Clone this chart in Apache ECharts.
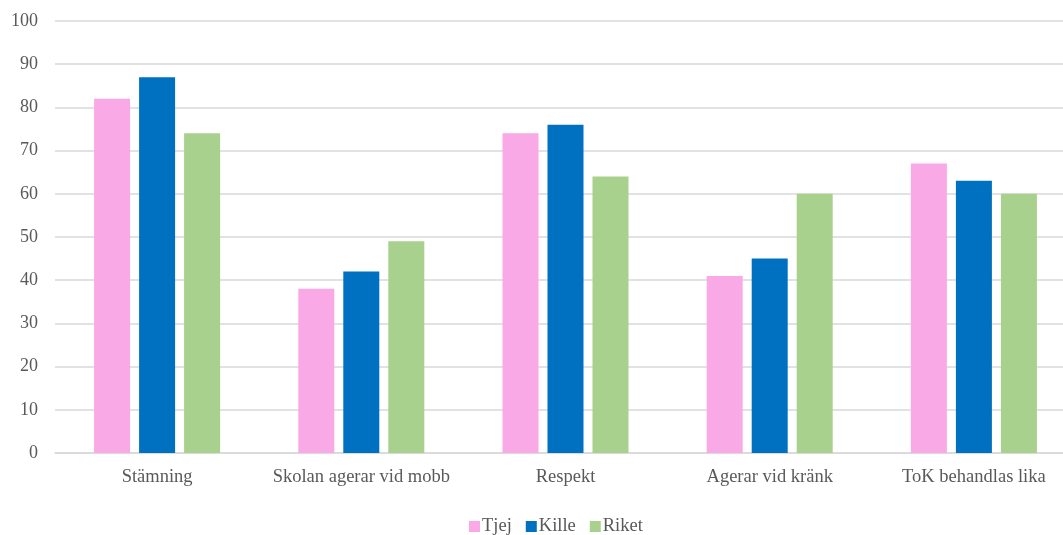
<!DOCTYPE html>
<html lang="sv">
  <head>
    <meta charset="UTF-8" />
    <title>Enkät</title>
    <script src="https://cdn.jsdelivr.net/npm/echarts@6/dist/echarts.min.js"></script>
    <style>
      html, body { margin: 0; padding: 0; background: #fff; overflow: hidden; }
      /* plot area in the original runs past the right edge of the picture */
      #main { width: 1076px; height: 535px; }
    </style>
  </head>
  <body>
    <div id="main"></div>
    <script>
      // kategorier och värden
      var categories = ['Stämning', 'Skolan agerar vid mobb', 'Respekt', 'Agerar vid kränk', 'ToK behandlas lika'];
      var tjej = [82, 38, 74, 41, 67];
      var kille = [87, 42, 76, 45, 63];
      var riket = [74, 49, 64, 60, 60];

      var myChart = echarts.init(document.getElementById('main'));
      var font = '"Liberation Serif", "Times New Roman", serif';

      function bar(name, data, color) {
        return {
          name: name,
          type: 'bar',
          data: data,
          barWidth: 36,
          barGap: '25%',
          itemStyle: { color: color },
          emphasis: { disabled: true }
        };
      }

      var option = {
        backgroundColor: '#fff',
        animation: false,
        textStyle: { fontFamily: font },
        grid: { left: 55, right: 0, top: 21, bottom: 82, containLabel: false },
        legend: {
          top: 512,
          left: 464,
          itemWidth: 11,
          itemHeight: 11,
          itemGap: 14,
          icon: 'rect',
          textStyle: { fontFamily: font, fontSize: 18.5, color: '#595959', padding: [0, 0, 0, -3] },
          data: ['Tjej', 'Kille', 'Riket']
        },
        xAxis: {
          type: 'category',
          data: categories,
          axisLine: { show: true, lineStyle: { color: '#D9D9D9', width: 1.5 } },
          axisTick: { show: false },
          axisLabel: { color: '#595959', fontSize: 18.5, fontFamily: font, margin: 15, interval: 0 }
        },
        yAxis: {
          type: 'value',
          min: 0,
          max: 100,
          interval: 10,
          axisLine: { show: false },
          axisTick: { show: false },
          splitLine: { lineStyle: { color: '#D9D9D9', width: 1.5 } },
          axisLabel: { color: '#595959', fontSize: 18, fontFamily: font, margin: 17 }
        },
        series: [
          bar('Tjej', tjej, '#F9A9E6'),
          bar('Kille', kille, '#0070C0'),
          bar('Riket', riket, '#A9D18E')
        ]
      };
      myChart.setOption(option);
    </script>
  </body>
</html>
